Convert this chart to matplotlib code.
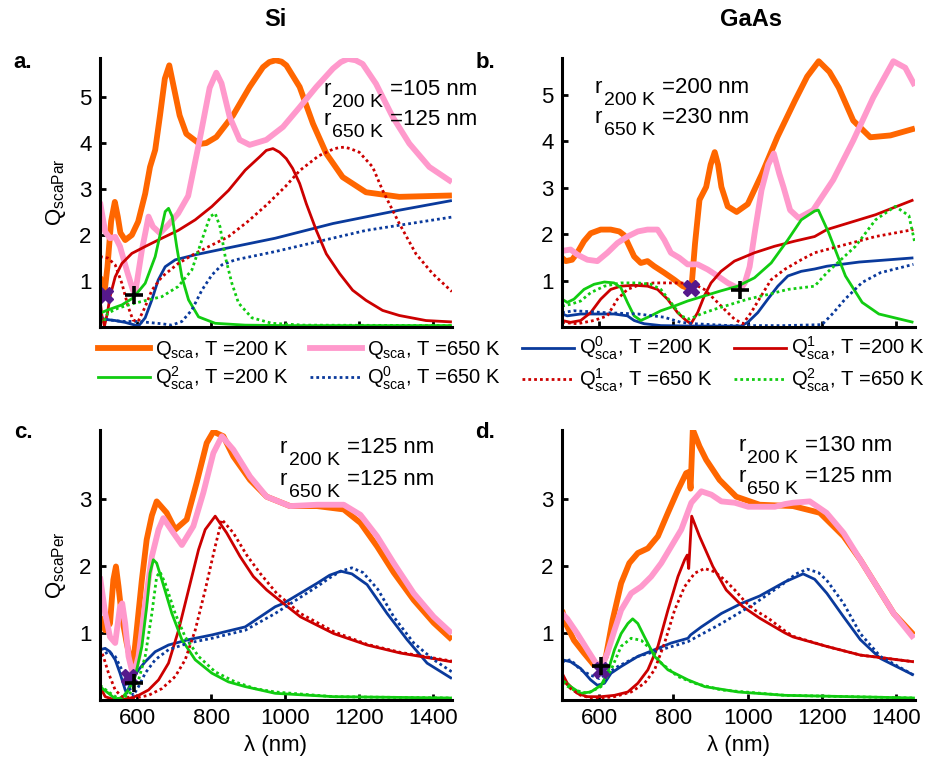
import matplotlib.pyplot as plt
from matplotlib.lines import Line2D

plt.rcParams['font.family'] = ['Liberation Sans', 'DejaVu Sans']
plt.rcParams['mathtext.default'] = 'regular'

# ---- panel a: Si, parallel ----
a_qsca200_x = [500, 506, 512, 520, 530, 540, 548, 555, 568, 586, 603, 622, 635, 649, 662, 675, 687, 697, 715, 733, 769, 787, 814, 859, 904, 940, 957, 974, 990, 1003, 1039, 1075, 1111, 1155, 1218, 1308, 1450]
a_qsca200_y = [1.09, 0.9, 0.74, 1.3, 2.3, 2.72, 2.4, 2.05, 1.89, 2.0, 2.29, 2.9, 3.48, 3.85, 4.6, 5.4, 5.69, 5.3, 4.6, 4.2, 3.98, 4.0, 4.13, 4.6, 5.22, 5.65, 5.76, 5.8, 5.77, 5.69, 5.22, 4.42, 3.77, 3.26, 2.93, 2.83, 2.86]
a_qsca650_x = [500, 514, 527, 541, 554, 572, 589, 595, 613, 631, 643, 662, 684, 711, 738, 769, 796, 814, 828, 850, 877, 904, 949, 994, 1039, 1084, 1129, 1150, 1169, 1190, 1209, 1245, 1290, 1335, 1389, 1450]
a_qsca650_y = [2.72, 2.07, 1.93, 1.96, 1.75, 1.24, 0.8, 0.74, 1.67, 2.4, 2.18, 2.04, 2.22, 2.47, 2.85, 4.07, 5.2, 5.53, 5.3, 4.57, 4.07, 3.96, 4.07, 4.35, 4.78, 5.22, 5.62, 5.76, 5.83, 5.8, 5.72, 5.29, 4.57, 3.99, 3.48, 3.15]
a_q0_200_x = [500, 505, 520, 541, 568, 595, 605, 622, 640, 657, 676, 703, 757, 846, 973, 1129, 1308, 1450]
a_q0_200_y = [0.25, 0.18, 0.16, 0.14, 0.1, 0.04, 0.03, 0.2, 0.59, 1.02, 1.31, 1.46, 1.57, 1.72, 1.93, 2.25, 2.54, 2.75]
a_q1_200_x = [500, 505, 512, 520, 527, 541, 559, 586, 622, 667, 711, 757, 802, 847, 892, 931, 949, 967, 985, 1003, 1020, 1039, 1057, 1084, 1111, 1147, 1182, 1218, 1263, 1308, 1380, 1450]
a_q1_200_y = [0.6, 0.25, 0.02, 0.3, 0.66, 1.09, 1.38, 1.6, 1.75, 1.93, 2.1, 2.33, 2.62, 2.97, 3.41, 3.7, 3.84, 3.88, 3.8, 3.66, 3.45, 3.12, 2.68, 2.1, 1.59, 1.16, 0.8, 0.58, 0.36, 0.25, 0.14, 0.11]
a_q2_200_x = [500, 521, 559, 589, 622, 649, 667, 676, 685, 695, 707, 721, 739, 766, 811, 892, 1000, 1450]
a_q2_200_y = [0.3, 0.37, 0.48, 0.63, 0.95, 1.53, 2.18, 2.51, 2.58, 2.4, 1.75, 1.09, 0.59, 0.22, 0.08, 0.04, 0.03, 0.03]
a_q0_650_x = [500, 520, 559, 603, 667, 694, 721, 748, 775, 802, 829, 865, 973, 1218, 1450]
a_q0_650_y = [0.22, 0.16, 0.12, 0.12, 0.07, 0.04, 0.12, 0.37, 0.8, 1.13, 1.35, 1.46, 1.64, 2.1, 2.39]
a_q1_650_x = [500, 521, 541, 559, 576, 589, 603, 622, 640, 667, 711, 757, 846, 900, 949, 1000, 1039, 1090, 1130, 1145, 1160, 1175, 1200, 1236, 1263, 1308, 1353, 1398, 1450]
a_q1_650_y = [1.53, 1.5, 1.35, 0.95, 0.44, 0.15, 0.12, 0.44, 0.8, 1.09, 1.38, 1.6, 1.96, 2.3, 2.65, 3.05, 3.4, 3.72, 3.87, 3.9, 3.91, 3.88, 3.8, 3.48, 2.97, 2.25, 1.59, 1.16, 0.77]
a_q2_650_x = [500, 509, 521, 549, 595, 667, 711, 748, 775, 797, 811, 824, 838, 856, 874, 910, 964, 1050, 1450]
a_q2_650_y = [0.15, 0.1, 0.3, 0.41, 0.52, 0.66, 0.88, 1.24, 1.89, 2.4, 2.47, 2.18, 1.53, 0.95, 0.52, 0.2, 0.08, 0.04, 0.03]
a_cross = (513, 0.69)
a_plus = (593, 0.7)

# ---- panel b: GaAs, parallel ----
b_qsca200_x = [500, 510, 527, 541, 559, 577, 604, 631, 654, 667, 681, 694, 712, 730, 748, 775, 802, 825, 848, 858, 870, 888, 900, 911, 920, 929, 946, 970, 1000, 1038, 1080, 1127, 1160, 1191, 1220, 1245, 1284, 1330, 1384, 1450]
b_qsca200_y = [1.49, 1.42, 1.45, 1.6, 1.85, 2.02, 2.1, 2.1, 2.06, 1.98, 1.74, 1.52, 1.38, 1.42, 1.31, 1.17, 1.02, 0.88, 0.81, 1.8, 2.74, 3.02, 3.5, 3.77, 3.5, 3.02, 2.6, 2.48, 2.65, 3.3, 4.1, 4.88, 5.4, 5.73, 5.5, 5.16, 4.45, 4.09, 4.13, 4.28]
b_qsca650_x = [500, 523, 541, 568, 595, 622, 649, 676, 704, 730, 757, 775, 793, 816, 838, 865, 892, 919, 946, 980, 992, 1005, 1020, 1037, 1055, 1070, 1085, 1096, 1114, 1137, 1176, 1230, 1284, 1338, 1392, 1424, 1450]
b_qsca650_y = [1.64, 1.67, 1.56, 1.45, 1.42, 1.6, 1.81, 1.95, 2.06, 2.1, 2.1, 1.88, 1.6, 1.49, 1.35, 1.35, 1.24, 1.1, 0.95, 0.81, 0.95, 1.3, 2.1, 2.95, 3.5, 3.74, 3.3, 3.02, 2.52, 2.35, 2.52, 3.17, 4.02, 4.95, 5.73, 5.59, 5.2]
b_q0_200_x = [500, 514, 550, 595, 640, 676, 694, 721, 766, 850, 950, 982, 1000, 1027, 1054, 1081, 1108, 1144, 1180, 1213, 1300, 1446]
b_q0_200_y = [0.28, 0.24, 0.28, 0.28, 0.28, 0.24, 0.14, 0.07, 0.03, 0.02, 0.02, 0.02, 0.1, 0.31, 0.6, 0.88, 1.1, 1.2, 1.25, 1.31, 1.4, 1.49]
b_q1_200_x = [500, 523, 550, 577, 604, 631, 658, 694, 730, 757, 784, 811, 834, 847, 865, 883, 901, 928, 964, 1018, 1072, 1126, 1180, 1213, 1344, 1446]
b_q1_200_y = [0.14, 0.1, 0.14, 0.31, 0.6, 0.81, 0.88, 0.9, 0.88, 0.81, 0.6, 0.31, 0.14, 0.07, 0.31, 0.67, 0.95, 1.2, 1.42, 1.6, 1.74, 1.85, 1.95, 2.1, 2.42, 2.74]
b_q2_200_x = [500, 514, 532, 559, 586, 614, 640, 658, 676, 694, 712, 739, 766, 802, 838, 883, 928, 973, 1018, 1063, 1108, 1144, 1180, 1190, 1218, 1263, 1308, 1353, 1446]
b_q2_200_y = [0.6, 0.53, 0.6, 0.81, 0.92, 0.97, 0.95, 0.85, 0.53, 0.24, 0.14, 0.24, 0.35, 0.45, 0.56, 0.67, 0.78, 0.88, 1.06, 1.38, 1.88, 2.31, 2.5, 2.52, 2.03, 1.1, 0.53, 0.28, 0.1]
b_q0_650_x = [500, 532, 614, 704, 775, 820, 856, 950, 1100, 1200, 1230, 1262, 1308, 1357, 1446]
b_q0_650_y = [0.31, 0.35, 0.31, 0.28, 0.21, 0.1, 0.07, 0.03, 0.03, 0.05, 0.3, 0.6, 0.96, 1.17, 1.35]
b_q1_650_x = [500, 541, 586, 622, 649, 676, 712, 748, 784, 820, 856, 883, 910, 937, 964, 987, 1009, 1036, 1063, 1099, 1144, 1180, 1213, 1344, 1446]
b_q1_650_y = [0.1, 0.07, 0.14, 0.24, 0.6, 0.81, 0.92, 0.95, 0.95, 0.95, 0.92, 0.81, 0.6, 0.38, 0.17, 0.07, 0.31, 0.67, 1.02, 1.24, 1.45, 1.6, 1.67, 1.95, 2.1]
b_q2_650_x = [500, 523, 550, 577, 614, 658, 704, 739, 766, 793, 820, 843, 874, 910, 955, 1000, 1054, 1108, 1180, 1213, 1290, 1344, 1397, 1434, 1450]
b_q2_650_y = [0.45, 0.49, 0.56, 0.74, 0.88, 0.95, 0.95, 0.92, 0.81, 0.53, 0.24, 0.17, 0.28, 0.38, 0.49, 0.6, 0.7, 0.81, 0.88, 1.17, 1.74, 2.31, 2.6, 2.4, 1.81]
b_cross = (846, 0.83)
b_plus = (980, 0.8)

# ---- panel c: Si, perpendicular ----
c_qsca200_x = [500, 514, 527, 536, 543, 550, 559, 572, 588, 599, 613, 626, 640, 653, 680, 703, 734, 761, 788, 806, 833, 860, 905, 950, 1013, 1086, 1158, 1203, 1248, 1293, 1347, 1401, 1450]
c_qsca200_y = [1.24, 1.04, 1.14, 1.79, 1.99, 1.69, 1.24, 0.85, 0.45, 1.04, 1.79, 2.39, 2.75, 2.96, 2.79, 2.54, 2.69, 3.24, 3.83, 4.0, 3.93, 3.63, 3.28, 3.03, 2.89, 2.89, 2.84, 2.64, 2.29, 1.9, 1.49, 1.15, 0.9]
c_qsca650_x = [500, 514, 527, 541, 554, 560, 568, 577, 590, 604, 622, 640, 658, 671, 698, 721, 752, 779, 806, 829, 860, 905, 950, 1013, 1086, 1158, 1203, 1248, 1293, 1347, 1401, 1450]
c_qsca650_y = [1.84, 1.29, 0.94, 0.85, 1.39, 1.44, 1.14, 0.65, 0.35, 0.65, 1.44, 2.14, 2.54, 2.71, 2.49, 2.31, 2.59, 3.09, 3.68, 3.93, 3.73, 3.33, 3.03, 2.89, 2.91, 2.91, 2.76, 2.44, 2.04, 1.59, 1.24, 0.99]
c_q0_200_x = [500, 514, 527, 541, 554, 568, 572, 586, 604, 622, 649, 685, 739, 802, 892, 973, 995, 1086, 1120, 1150, 1180, 1221, 1275, 1329, 1383, 1450]
c_q0_200_y = [0.75, 0.77, 0.72, 0.6, 0.4, 0.15, 0.1, 0.3, 0.45, 0.57, 0.72, 0.82, 0.9, 0.97, 1.09, 1.39, 1.44, 1.74, 1.86, 1.92, 1.88, 1.72, 1.29, 0.9, 0.55, 0.32]
c_q1_200_x = [500, 514, 541, 577, 604, 631, 658, 685, 712, 739, 766, 784, 811, 842, 878, 914, 950, 995, 1041, 1131, 1221, 1311, 1450]
c_q1_200_y = [0.2, 0.05, 0.0, 0.02, 0.07, 0.15, 0.3, 0.55, 1.04, 1.64, 2.24, 2.54, 2.74, 2.49, 2.14, 1.84, 1.64, 1.44, 1.24, 0.99, 0.82, 0.7, 0.57]
c_q2_200_x = [500, 523, 541, 559, 577, 595, 613, 626, 635, 644, 653, 667, 694, 721, 757, 802, 847, 892, 973, 1131, 1450]
c_q2_200_y = [0.2, 0.1, 0.02, 0.03, 0.15, 0.35, 0.8, 1.39, 1.89, 2.09, 2.04, 1.79, 1.29, 0.9, 0.6, 0.4, 0.27, 0.2, 0.1, 0.05, 0.03]
c_q0_650_x = [500, 523, 541, 559, 577, 590, 604, 622, 649, 685, 739, 802, 892, 973, 1086, 1120, 1150, 1180, 1210, 1250, 1293, 1347, 1401, 1450]
c_q0_650_y = [0.65, 0.72, 0.65, 0.45, 0.2, 0.07, 0.2, 0.4, 0.6, 0.75, 0.85, 0.92, 1.04, 1.29, 1.69, 1.82, 1.92, 1.97, 1.9, 1.65, 1.24, 0.85, 0.6, 0.42]
c_q1_650_x = [500, 509, 523, 541, 559, 595, 631, 667, 703, 730, 757, 784, 811, 829, 860, 896, 932, 977, 1041, 1131, 1221, 1311, 1450]
c_q1_650_y = [0.77, 0.65, 0.4, 0.15, 0.05, 0.03, 0.07, 0.17, 0.35, 0.6, 1.04, 1.64, 2.29, 2.69, 2.49, 2.16, 1.89, 1.59, 1.29, 1.02, 0.83, 0.71, 0.58]
c_q2_650_x = [500, 523, 550, 577, 604, 622, 640, 653, 662, 676, 703, 730, 766, 811, 865, 919, 973, 1131, 1450]
c_q2_650_y = [0.22, 0.12, 0.02, 0.07, 0.3, 0.65, 1.29, 1.84, 1.91, 1.74, 1.29, 0.94, 0.65, 0.42, 0.27, 0.17, 0.12, 0.05, 0.03]
c_cross = (577, 0.35)
c_plus = (593, 0.25)

# ---- panel d: GaAs, perpendicular ----
d_qsca200_x = [500, 510, 532, 559, 586, 605, 618, 636, 659, 681, 704, 731, 758, 785, 812, 834, 842, 846, 852, 870, 888, 924, 969, 1032, 1122, 1194, 1258, 1303, 1348, 1393, 1447]
d_qsca200_y = [1.34, 1.14, 0.89, 0.7, 0.52, 0.52, 0.65, 1.19, 1.74, 2.04, 2.19, 2.26, 2.44, 2.79, 3.13, 3.38, 3.4, 3.15, 4.03, 3.78, 3.58, 3.28, 3.03, 2.91, 2.89, 2.79, 2.44, 2.09, 1.69, 1.29, 0.97]
d_qsca650_x = [500, 514, 541, 568, 591, 609, 622, 641, 659, 686, 713, 740, 767, 794, 821, 848, 875, 902, 929, 965, 1001, 1037, 1073, 1100, 1122, 1167, 1212, 1258, 1303, 1348, 1393, 1447]
d_qsca650_y = [1.29, 1.21, 0.99, 0.75, 0.55, 0.52, 0.7, 1.04, 1.34, 1.59, 1.69, 1.84, 2.04, 2.29, 2.54, 2.94, 3.11, 3.06, 2.96, 2.94, 2.88, 2.88, 2.88, 2.92, 2.94, 2.96, 2.79, 2.49, 2.09, 1.69, 1.29, 0.92]
d_q0_200_x = [500, 523, 550, 577, 595, 614, 632, 659, 704, 749, 794, 839, 846, 875, 929, 983, 1032, 1100, 1149, 1180, 1213, 1258, 1303, 1357, 1447]
d_q0_200_y = [0.6, 0.57, 0.47, 0.3, 0.22, 0.25, 0.4, 0.5, 0.65, 0.75, 0.85, 0.92, 0.97, 1.09, 1.29, 1.44, 1.55, 1.76, 1.88, 1.8, 1.59, 1.24, 0.9, 0.62, 0.37]
d_q1_200_x = [500, 514, 541, 568, 605, 641, 677, 704, 731, 758, 785, 812, 830, 837, 841, 849, 870, 906, 942, 987, 1032, 1100, 1122, 1212, 1303, 1447]
d_q1_200_y = [0.4, 0.25, 0.1, 0.05, 0.05, 0.07, 0.12, 0.25, 0.45, 0.8, 1.34, 1.84, 2.09, 2.16, 1.96, 2.74, 2.44, 1.99, 1.64, 1.39, 1.22, 1.0, 0.94, 0.8, 0.67, 0.57]
d_q2_200_x = [500, 523, 550, 577, 605, 622, 641, 659, 677, 690, 704, 722, 749, 785, 839, 884, 974, 1100, 1450]
d_q2_200_y = [0.3, 0.2, 0.1, 0.12, 0.22, 0.4, 0.75, 0.99, 1.14, 1.21, 1.14, 0.94, 0.65, 0.45, 0.3, 0.2, 0.12, 0.07, 0.03]
d_q0_650_x = [500, 523, 550, 577, 600, 622, 650, 704, 749, 839, 929, 1019, 1100, 1130, 1160, 1190, 1212, 1258, 1303, 1357, 1447]
d_q0_650_y = [0.57, 0.6, 0.45, 0.37, 0.32, 0.4, 0.5, 0.65, 0.72, 0.87, 1.14, 1.44, 1.75, 1.88, 1.95, 1.9, 1.79, 1.44, 0.99, 0.65, 0.37]
d_q1_650_x = [500, 523, 550, 586, 641, 686, 722, 749, 776, 803, 830, 857, 884, 911, 938, 965, 992, 1019, 1055, 1100, 1122, 1212, 1303, 1447]
d_q1_650_y = [0.32, 0.17, 0.07, 0.02, 0.05, 0.12, 0.25, 0.45, 0.85, 1.34, 1.69, 1.89, 1.96, 1.91, 1.79, 1.64, 1.47, 1.34, 1.22, 1.03, 0.95, 0.8, 0.67, 0.57]
d_q2_650_x = [500, 532, 568, 605, 632, 659, 686, 713, 740, 767, 812, 857, 929, 1100, 1450]
d_q2_650_y = [0.25, 0.15, 0.1, 0.2, 0.45, 0.8, 0.92, 0.89, 0.75, 0.55, 0.35, 0.25, 0.15, 0.07, 0.03]
d_cross = (605, 0.45)
d_plus = (605, 0.5)

radii = {
    'a': ('=105 nm', '=125 nm'),
    'b': ('=200 nm', '=230 nm'),
    'c': ('=125 nm', '=125 nm'),
    'd': ('=130 nm', '=125 nm'),
}

legend_labels = [
    '$Q_{sca}$, T =200 K', '$Q_{sca}$, T =650 K',
    '$Q^{0}_{sca}$, T =200 K', '$Q^{1}_{sca}$, T =200 K',
    '$Q^{2}_{sca}$, T =200 K', '$Q^{0}_{sca}$, T =650 K',
    '$Q^{1}_{sca}$, T =650 K', '$Q^{2}_{sca}$, T =650 K',
]

ORANGE = '#ff6600'
PINK = '#ff99cc'
BLUE = '#0a3a9c'
RED = '#cc0000'
GREEN = '#11cc11'
PURPLE = '#55198c'
DOT = (0, (1, 1.1))

# (color, linewidth, linestyle) in legend order
styles = [
    (ORANGE, 4.2, '-'), (PINK, 4.2, '-'),
    (BLUE, 2.0, '-'), (RED, 2.0, '-'),
    (GREEN, 2.0, '-'), (BLUE, 2.0, DOT),
    (RED, 2.0, DOT), (GREEN, 2.0, DOT),
]


def r_label(ax, x, y, temp, value):
    ax.text(x, y, 'r', transform=ax.transAxes, fontsize=16, va='baseline')
    ax.annotate(temp, (x, y), xycoords='axes fraction', xytext=(9, -12),
                textcoords='offset pixels', fontsize=14, va='baseline')
    ax.annotate(value, (x, y), xycoords='axes fraction', xytext=(67, 0),
                textcoords='offset pixels', fontsize=16, va='baseline')


def draw_panel(ax, curves, cross, plus, ylim, yticks, xlabels):
    for (xs, ys), (col, lw, ls) in zip(curves, styles):
        ax.plot(xs, ys, color=col, lw=lw, linestyle=ls, solid_capstyle='butt')
    ax.plot(*cross, marker='X', color=PURPLE, ms=11, mec=PURPLE, ls='none')
    ax.plot(*plus, marker='+', color='black', ms=13, mew=2.6, ls='none')
    ax.set_xlim(500, 1450)
    ax.set_ylim(*ylim)
    ax.set_xticks([600, 800, 1000, 1200, 1400])
    ax.set_yticks(yticks)
    if not xlabels:
        ax.set_xticklabels([])
    else:
        ax.set_xlabel('λ (nm)', fontsize=16, labelpad=4)
    for side in ['top', 'right']:
        ax.spines[side].set_visible(False)
    for side in ['left', 'bottom']:
        ax.spines[side].set_linewidth(2.2)
    ax.tick_params(direction='in', length=4, width=2, labelsize=16, pad=6)


fig = plt.figure(figsize=(9.26, 7.73), dpi=100)

ax_a = fig.add_axes([0.108, 0.577, 0.380, 0.348])
ax_b = fig.add_axes([0.607, 0.577, 0.381, 0.348])
ax_c = fig.add_axes([0.108, 0.0944, 0.380, 0.349])
ax_d = fig.add_axes([0.607, 0.0944, 0.381, 0.349])

curves_a = [(a_qsca200_x, a_qsca200_y), (a_qsca650_x, a_qsca650_y),
            (a_q0_200_x, a_q0_200_y), (a_q1_200_x, a_q1_200_y),
            (a_q2_200_x, a_q2_200_y), (a_q0_650_x, a_q0_650_y),
            (a_q1_650_x, a_q1_650_y), (a_q2_650_x, a_q2_650_y)]
curves_b = [(b_qsca200_x, b_qsca200_y), (b_qsca650_x, b_qsca650_y),
            (b_q0_200_x, b_q0_200_y), (b_q1_200_x, b_q1_200_y),
            (b_q2_200_x, b_q2_200_y), (b_q0_650_x, b_q0_650_y),
            (b_q1_650_x, b_q1_650_y), (b_q2_650_x, b_q2_650_y)]
curves_c = [(c_qsca200_x, c_qsca200_y), (c_qsca650_x, c_qsca650_y),
            (c_q0_200_x, c_q0_200_y), (c_q1_200_x, c_q1_200_y),
            (c_q2_200_x, c_q2_200_y), (c_q0_650_x, c_q0_650_y),
            (c_q1_650_x, c_q1_650_y), (c_q2_650_x, c_q2_650_y)]
curves_d = [(d_qsca200_x, d_qsca200_y), (d_qsca650_x, d_qsca650_y),
            (d_q0_200_x, d_q0_200_y), (d_q1_200_x, d_q1_200_y),
            (d_q2_200_x, d_q2_200_y), (d_q0_650_x, d_q0_650_y),
            (d_q1_650_x, d_q1_650_y), (d_q2_650_x, d_q2_650_y)]

draw_panel(ax_a, curves_a, a_cross, a_plus, (0, 5.85), [1, 2, 3, 4, 5], False)
draw_panel(ax_b, curves_b, b_cross, b_plus, (0, 5.8), [1, 2, 3, 4, 5], False)
draw_panel(ax_c, curves_c, c_cross, c_plus, (0, 4.02), [1, 2, 3], True)
draw_panel(ax_d, curves_d, d_cross, d_plus, (0, 4.02), [1, 2, 3], True)

ax_a.set_ylabel('$Q_{scaPar}$', fontsize=16, labelpad=8)
ax_c.set_ylabel('$Q_{scaPer}$', fontsize=16, labelpad=8)

r_label(ax_a, 0.634, 0.862, '200 K', radii['a'][0])
r_label(ax_a, 0.634, 0.751, '650 K', radii['a'][1])
r_label(ax_b, 0.093, 0.870, '200 K', radii['b'][0])
r_label(ax_b, 0.093, 0.758, '650 K', radii['b'][1])
r_label(ax_c, 0.511, 0.915, '200 K', radii['c'][0])
r_label(ax_c, 0.511, 0.796, '650 K', radii['c'][1])
r_label(ax_d, 0.499, 0.922, '200 K', radii['d'][0])
r_label(ax_d, 0.499, 0.807, '650 K', radii['d'][1])

fig.text(0.297, 1 - 20 / 773, 'Si', ha='center', va='center', fontsize=17, weight='bold')
fig.text(0.811, 1 - 20 / 773, 'GaAs', ha='center', va='center', fontsize=17, weight='bold')
for lab, x, y in [('a.', 23, 62), ('b.', 485, 62), ('c.', 23, 433), ('d.', 485, 433)]:
    fig.text(x / 926, 1 - y / 773, lab, ha='center', va='center', fontsize=16, weight='bold')

# legend: 2 rows x 4 columns, filled row by row
handles = [Line2D([], [], color=c, lw=lw, linestyle=ls) for c, lw, ls in styles]
order = [0, 4, 1, 5, 2, 6, 3, 7]
fig.legend([handles[i] for i in order], [legend_labels[i] for i in order],
           ncol=4, loc='upper left', bbox_to_anchor=(98 / 926, 1 - 335 / 773),
           frameon=False, fontsize=14.5, handlelength=2.6, handletextpad=0.25,
           columnspacing=1.05, labelspacing=0.2, borderpad=0, borderaxespad=0)

fig.savefig('out.png', dpi=100)
